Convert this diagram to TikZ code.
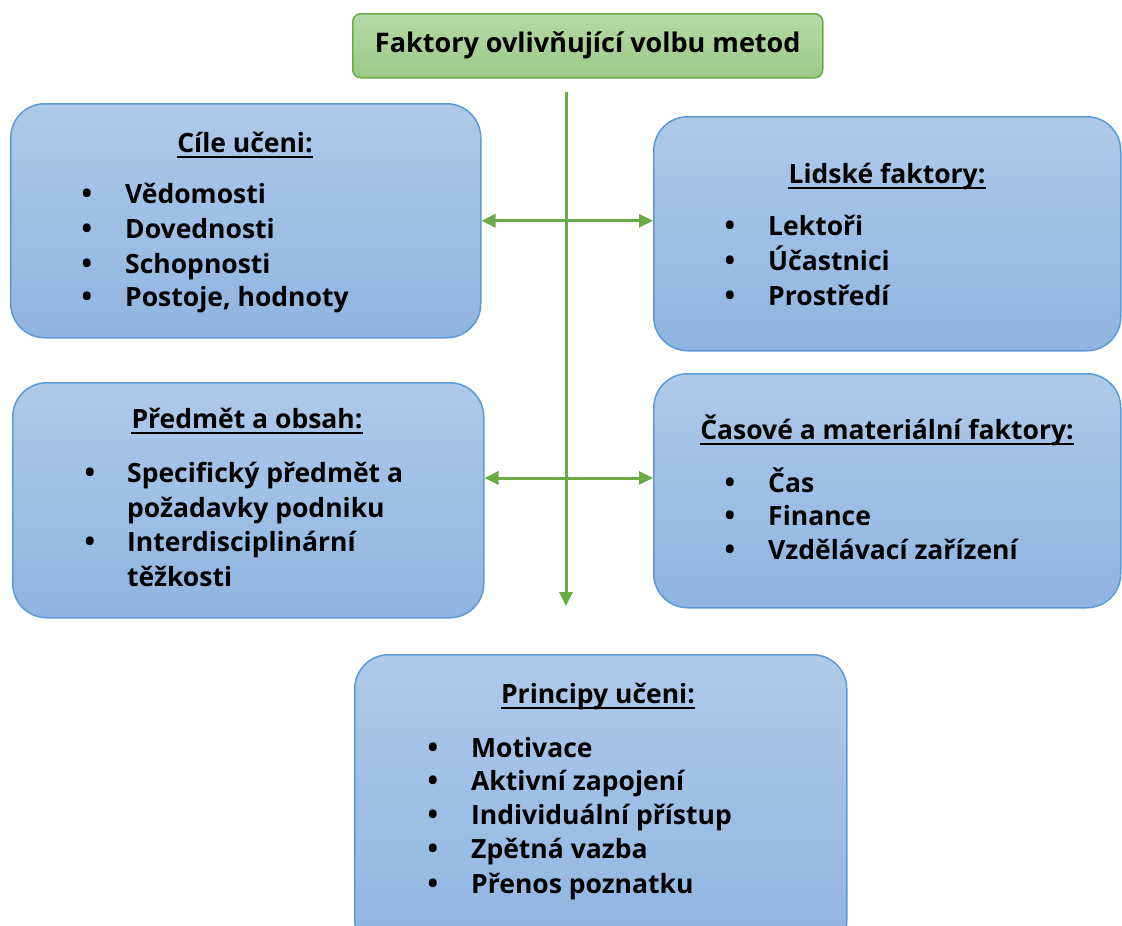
\documentclass[tikz,border=0pt]{standalone}
\usepackage{fontspec}
\setmainfont{Open Sans}
\usetikzlibrary{arrows.meta, calc}
\definecolor{boxtop}{HTML}{AFC9E9}
\definecolor{boxbot}{HTML}{8FB4E1}
\definecolor{boxedge}{HTML}{5B9BD5}
\definecolor{headtop}{HTML}{B5D9A7}
\definecolor{headbot}{HTML}{9CCA86}
\definecolor{green}{HTML}{6AAB46}

\tikzset{
  factor/.style={draw=boxedge, line width=1.5pt, rounded corners=34pt,
    top color=boxtop, bottom color=boxbot, inner sep=0pt, anchor=north west},
  headbox/.style={draw=green, line width=1.5pt, rounded corners=8pt,
    top color=headtop, bottom color=headbot, anchor=north west,
    font=\fontsize{27}{32}\selectfont\bfseries},
  heading/.style={anchor=base, inner sep=0pt, font=\fontsize{26.5}{32}\selectfont\bfseries},
  item/.style={anchor=base west, inner sep=0pt, font=\fontsize{26.5}{32}\selectfont\bfseries},
  dot/.style={anchor=base, inner sep=0pt, font=\fontsize{28}{32}\selectfont\bfseries},
  flow/.style={draw=green, line width=3pt, -{Triangle[length=14pt,width=13pt]}},
  twoway/.style={flow, {Triangle[length=14pt,width=13pt]}-{Triangle[length=14pt,width=13pt]}}
}

\begin{document}
\begin{tikzpicture}[x=1pt, y=-1pt]
  \useasboundingbox (0,0) rectangle (1122,926);

  % title
  \node[headbox, minimum width=470pt, minimum height=64pt] (title) at (352,13)
    {Faktory ovlivňující volbu metod};

  % boxes
  \node[factor, minimum width=470pt, minimum height=234pt] (goals) at (10,103) {};
  \node[factor, minimum width=467pt, minimum height=234pt] (people) at (653,116) {};
  \node[factor, minimum width=471pt, minimum height=235pt] (content) at (12,382) {};
  \node[factor, minimum width=467pt, minimum height=234pt] (timing) at (653,373) {};
  \node[factor, minimum width=492pt, minimum height=300pt] (principles) at (354,654) {};

  % headings
  \foreach \nm/\x/\y/\lbl in {
    hgoals/245/152/Cíle učeni:,
    hpeople/887/183/Lidské faktory:,
    hcontent/247/428/Předmět a obsah:,
    htiming/887/439/Časové a materiální faktory:,
    hprinciples/598/703/Principy učeni:
  }{
    \node[heading] (\nm) at (\x,\y) {\lbl};
    \draw[line width=1.5pt] ([yshift=-5pt]\nm.base west) -- ([yshift=-5pt]\nm.base east);
  }

  % lists
  \foreach \y/\lbl [count=\i] in {
    203/Vědomosti, 238/Dovednosti, 273/Schopnosti, 306/{Postoje, hodnoty}
  }{
    \node[item] (goal-\i) at (125,\y) {\lbl};
    \node[dot] (goaldot-\i) at (87,\y) {•};
  }
  \foreach \y/\lbl [count=\i] in {235/Lektoři, 270/Účastnici, 305/Prostředí}{
    \node[item] (person-\i) at (768,\y) {\lbl};
    \node[dot] (persondot-\i) at (730,\y) {•};
  }
  \foreach \y/\lbl/\hasdot [count=\i] in {
    482/Specifický předmět a/1, 517/požadavky podniku/0,
    551/Interdisciplinární/1, 586/těžkosti/0
  }{
    \node[item] (content-\i) at (127,\y) {\lbl};
    \ifnum\hasdot=1 \node[dot] (contentdot-\i) at (90,\y) {•}; \fi
  }
  \foreach \y/\lbl [count=\i] in {492/Čas, 525/Finance, 559/Vzdělávací zařízení}{
    \node[item] (time-\i) at (768,\y) {\lbl};
    \node[dot] (timedot-\i) at (730,\y) {•};
  }
  \foreach \y/\lbl [count=\i] in {757/Motivace, 790/Aktivní zapojení,
    824/Individuální přístup, 858/Zpětná vazba, 893/Přenos poznatku}{
    \node[item] (principle-\i) at (471,\y) {\lbl};
    \node[dot] (principledot-\i) at (433,\y) {•};
  }

  % connectors
  \coordinate (spinetop) at (566,92);
  \coordinate (spineend) at (566,606);
  \coordinate (cross) at (566,478);
  \draw[flow] (spinetop) -- (spineend);
  \draw[twoway] (goals.east) -- (goals.east -| people.west);
  \draw[twoway] (content.east |- cross) -- (timing.west |- cross);
\end{tikzpicture}
\end{document}
